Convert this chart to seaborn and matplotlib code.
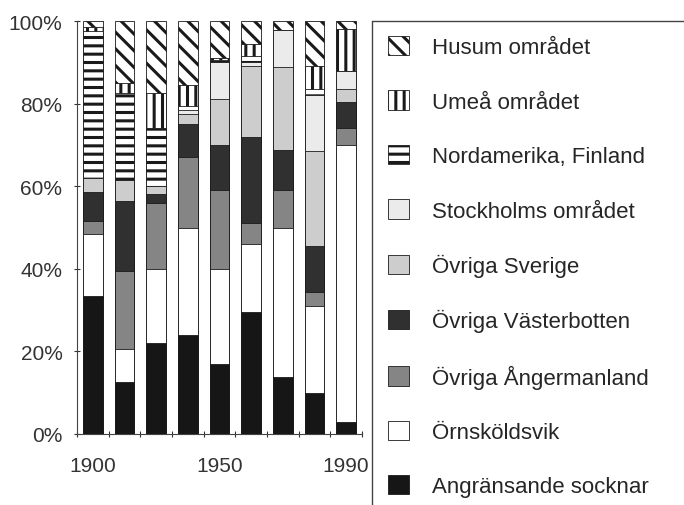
import pandas as pd
import matplotlib
matplotlib.use("Agg")
import matplotlib.pyplot as plt
from matplotlib.patches import Patch
from matplotlib.lines import Line2D
import seaborn as sns

# nine periods, only three are labelled on the axis
periods = list(range(9))
tick_labels = ["1900", "", "", "", "1950", "", "", "", "1990"]

# shares in percent, listed bottom -> top of the stack
angransande = [33.5, 12.5, 22.0, 24.0, 17.0, 29.5, 13.7, 10.0, 3.0]
ornskoldsvik = [15.0, 8.0, 18.0, 26.0, 23.0, 16.5, 36.3, 21.0, 67.0]
angermanland = [3.0, 19.0, 16.0, 17.0, 19.0, 5.0, 9.0, 3.5, 4.0]
vasterbotten = [7.0, 17.0, 2.0, 8.0, 11.0, 21.0, 9.7, 11.0, 6.5]
ovriga_sverige = [3.5, 5.0, 2.0, 2.5, 11.0, 17.0, 20.2, 23.0, 3.0]
stockholm = [0.0, 0.0, 0.0, 1.0, 9.0, 1.0, 9.0, 13.5, 4.5]
nordamerika = [35.5, 21.0, 14.0, 1.0, 0.5, 1.5, 0.0, 1.5, 0.0]
umea = [1.0, 2.5, 8.5, 5.0, 0.5, 3.0, 0.0, 5.5, 10.0]
husum = [1.5, 15.0, 17.5, 15.5, 9.0, 5.5, 2.1, 11.0, 2.0]

layers = [
    ("Angränsande socknar", angransande, "#161616", ""),
    ("Örnsköldsvik", ornskoldsvik, "#ffffff", ""),
    ("Övriga Ångermanland", angermanland, "#858585", ""),
    ("Övriga Västerbotten", vasterbotten, "#303030", ""),
    ("Övriga Sverige", ovriga_sverige, "#cdcdcd", ""),
    ("Stockholms området", stockholm, "#ebebeb", ""),
    ("Nordamerika, Finland", nordamerika, "#ffffff", "--"),
    ("Umeå området", umea, "#ffffff", "||"),
    ("Husum området", husum, "#ffffff", "\\\\"),
]

sns.set_style("ticks")
plt.rcParams["font.family"] = ["Liberation Sans", "DejaVu Sans"]
plt.rcParams["hatch.linewidth"] = 2.2

fig = plt.figure(figsize=(6.84, 5.06), dpi=100)
ax = fig.add_axes([77 / 684, 71 / 506, 285 / 684, 413 / 506])

# cumulative tops, drawn from the top layer downwards so lower ones cover
running = [0.0] * len(periods)
tops = []
for name, vals, col, hatch in layers:
    running = [r + v for r, v in zip(running, vals)]
    tops.append((name, list(running), col, hatch))

for name, top, col, hatch in reversed(tops):
    df = pd.DataFrame({"period": periods, "top": top})
    sns.barplot(data=df, x="period", y="top", color=col, saturation=1,
                width=0.63, edgecolor="#1a1a1a", linewidth=0.6,
                hatch=hatch, errorbar=None, ax=ax)

ax.set_xlim(-0.5, 8.5)
ax.set_ylim(0, 100)
ax.set_xlabel("")
ax.set_ylabel("")
ax.set_yticks(range(0, 101, 20))
ax.set_yticklabels([f"{v}%" for v in range(0, 101, 20)])
ax.set_xticks(periods)
ax.set_xticklabels(tick_labels)
ax.set_xticks([p - 0.5 for p in periods] + [8.5], minor=True)
ax.tick_params(axis="y", direction="inout", length=5, width=0.8,
               labelsize=15, pad=8, colors="#333333")
ax.tick_params(axis="x", which="major", length=0, labelsize=15, pad=16,
               colors="#333333")
ax.tick_params(axis="x", which="minor", direction="inout", length=5,
               width=0.8, colors="#333333")
sns.despine(ax=ax)
for s in ["left", "bottom"]:
    ax.spines[s].set_color("#444444")
    ax.spines[s].set_linewidth(0.8)

handles = [Patch(facecolor=col, edgecolor="#1a1a1a", hatch=hatch,
                 linewidth=0.6, label=name)
           for name, vals, col, hatch in reversed(layers)]
fig.legend(handles=handles, loc="upper left",
           bbox_to_anchor=(388 / 684, 1 - 37 / 506), frameon=False,
           fontsize=16, handlelength=0.95, handleheight=0.95,
           handletextpad=1.05, labelspacing=1.45, borderpad=0,
           borderaxespad=0)

# legend box runs off the right and bottom edges
fig.add_artist(Line2D([372 / 684, 372 / 684], [0, 1 - 22 / 506],
                      color="#444444", lw=1))
fig.add_artist(Line2D([372 / 684, 1], [1 - 22 / 506, 1 - 22 / 506],
                      color="#444444", lw=1))

fig.savefig("out.png", dpi=100)
